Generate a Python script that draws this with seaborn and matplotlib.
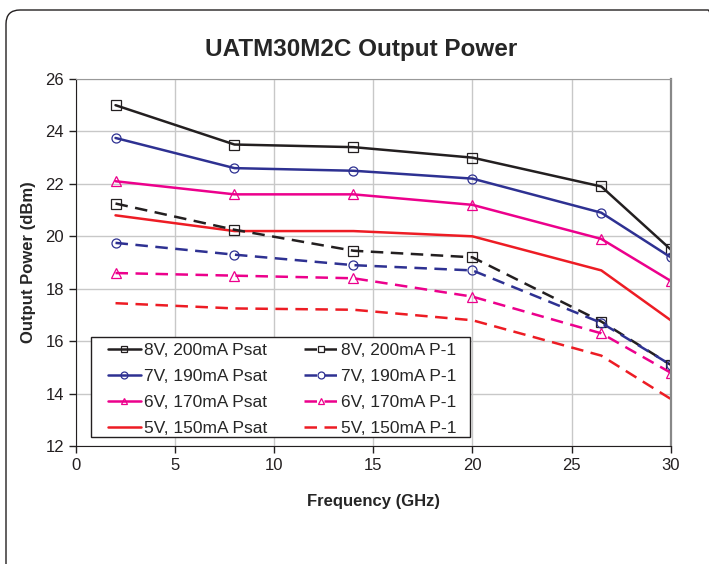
import pandas as pd
import seaborn as sns
import matplotlib.pyplot as plt
from matplotlib.patches import FancyBboxPatch, Rectangle
from matplotlib.transforms import IdentityTransform

freq = [2, 8, 14, 20, 26.5, 30]

psat_8v = [25.0, 23.5, 23.4, 23.0, 21.9, 19.5]
psat_7v = [23.75, 22.6, 22.5, 22.2, 20.9, 19.2]
psat_6v = [22.1, 21.6, 21.6, 21.2, 19.9, 18.3]
psat_5v = [20.8, 20.2, 20.2, 20.0, 18.7, 16.8]
p1_8v = [21.25, 20.25, 19.45, 19.2, 16.75, 15.1]
p1_7v = [19.75, 19.3, 18.9, 18.7, 16.7, 15.1]
p1_6v = [18.6, 18.5, 18.4, 17.7, 16.3, 14.8]
p1_5v = [17.45, 17.25, 17.2, 16.8, 15.45, 13.8]

labels = ['8V, 200mA Psat', '7V, 190mA Psat', '6V, 170mA Psat', '5V, 150mA Psat',
          '8V, 200mA P-1', '7V, 190mA P-1', '6V, 170mA P-1', '5V, 150mA P-1']
series = [psat_8v, psat_7v, psat_6v, psat_5v, p1_8v, p1_7v, p1_6v, p1_5v]

colors = ['#231f20', '#2e3192', '#ec008c', '#ed1c24'] * 2
markers = ['s', 'o', '^', None] * 2
dashed = [False] * 4 + [True] * 4

df = pd.DataFrame({
    'Frequency': freq * len(series),
    'Power': [v for s in series for v in s],
    'Series': [lab for lab in labels for _ in freq],
})

sns.set_style('white')
plt.rcParams['font.family'] = ['Liberation Sans', 'DejaVu Sans']

fig = plt.figure(figsize=(7.09, 5.64), dpi=100)
ax = fig.add_axes([0.107, 0.209, 0.839, 0.651])

for lab, col, mk, ds in zip(labels, colors, markers, dashed):
    sub = df[df['Series'] == lab]
    kw = dict(marker=mk, markersize=6.5, markerfacecolor='none',
              markeredgecolor=col, markeredgewidth=0.9) if mk else {}
    sns.lineplot(data=sub, x='Frequency', y='Power', ax=ax, color=col,
                 linewidth=1.8, label=lab, **kw)
    if ds:
        ax.lines[-1].set_dashes([5, 3])

ax.set_xlim(0, 30)
ax.set_ylim(12, 26)
ax.set_xticks(range(0, 31, 5))
ax.set_yticks(range(12, 27, 2))
ax.grid(True, color='#c8c8c8', linewidth=1.0)
ax.set_axisbelow(True)
ax.spines['top'].set_color('#999999')
ax.spines['right'].set_color('#888888')
ax.spines['right'].set_linewidth(1.6)
for side in ['left', 'bottom']:
    ax.spines[side].set_color('#231f20')
ax.tick_params(axis='both', direction='out', length=5, width=1, colors='#231f20',
               labelsize=12, bottom=True, left=True)
ax.set_xlabel('Frequency (GHz)', fontsize=12, fontweight='bold', labelpad=15)
ax.set_ylabel('Output Power (dBm)', fontsize=12, fontweight='bold', labelpad=7)
fig.text(0.51, 0.913, 'UATM30M2C Output Power', ha='center', va='center',
         fontsize=17.5, fontweight='bold')

# legend box drawn separately so its padding matches the original
ax.add_patch(Rectangle((0.025, 0.0245), 0.637, 0.2725, transform=ax.transAxes,
                       facecolor='white', edgecolor='#231f20', linewidth=1.0, zorder=4))
leg = ax.legend(ncol=2, loc='upper left', bbox_to_anchor=(0.054, 0.281),
                fontsize=12.5, frameon=False, handlelength=1.9, columnspacing=2.1,
                labelspacing=0.62, borderpad=0, handletextpad=0.2, borderaxespad=0)
leg.set_zorder(5)
for h in leg.get_lines():
    h.set_markersize(5)

border = FancyBboxPatch((6, -20), 716, 574,
                        boxstyle='round,pad=0,rounding_size=14',
                        transform=IdentityTransform(), fill=False, edgecolor='#231f20',
                        linewidth=1.0)
fig.patches.append(border)

fig.savefig('out.png', dpi=100)
